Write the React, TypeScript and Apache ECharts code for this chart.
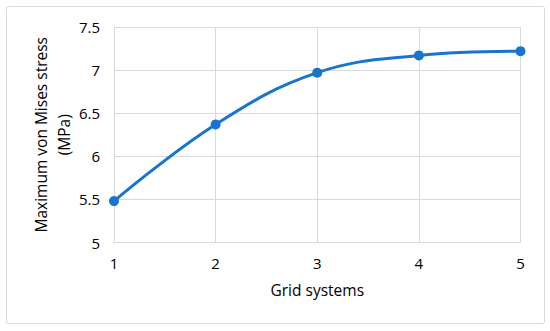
import React, { useEffect, useRef } from "react";
import * as echarts from "echarts";

const gridSystems = [1, 2, 3, 4, 5];
const maxStress = [5.48, 6.37, 6.97, 7.17, 7.22];
const yTicks = { min: 5, max: 7.5, interval: 0.5 };
const xTitle = "Grid systems";
const yTitle = "Maximum von Mises stress\n(MPa)";

export default function App() {
  const ref = useRef<HTMLDivElement>(null);
  useEffect(() => {
    if (!ref.current) return;
    const chart = echarts.init(ref.current, null, { renderer: "svg" });
    const font = "'Open Sans', 'Noto Sans', sans-serif";
    chart.setOption({
      animation: false,
      backgroundColor: "#ffffff",
      graphic: [
        {
          type: "rect",
          shape: { x: 6.5, y: 6.5, width: 538, height: 317, r: 2 },
          style: { fill: "none", stroke: "#d9d9d9", lineWidth: 1 },
          silent: true,
        },
      ],
      grid: { left: 114, right: 29.5, top: 27, bottom: 88.5, containLabel: false },
      xAxis: {
        type: "value",
        min: 1,
        max: 5,
        interval: 1,
        name: xTitle,
        nameLocation: "middle",
        nameGap: 39,
        nameMoveOverlap: false,
        nameTextStyle: { fontFamily: font, fontSize: 15.5, color: "#000" },
        axisLine: { show: true, lineStyle: { color: "#d9d9d9", width: 1 } },
        axisTick: { show: false },
        axisLabel: { fontFamily: font, fontSize: 15, color: "#000", margin: 13 },
        splitLine: { show: true, lineStyle: { color: "#d9d9d9", width: 1 } },
      },
      yAxis: {
        type: "value",
        min: yTicks.min,
        max: yTicks.max,
        interval: yTicks.interval,
        name: yTitle,
        nameLocation: "middle",
        nameGap: 39,
        nameMoveOverlap: false,
        nameRotate: 90,
        nameTextStyle: { fontFamily: font, fontSize: 15.5, color: "#000", lineHeight: 23, align: "center" },
        axisLine: { show: true, lineStyle: { color: "#d9d9d9", width: 1 } },
        axisTick: { show: false },
        axisLabel: { fontFamily: font, fontSize: 15, color: "#000", margin: 14 },
        splitLine: { show: true, lineStyle: { color: "#d9d9d9", width: 1 } },
      },
      series: [
        {
          type: "line",
          data: gridSystems.map((g, i) => [g, maxStress[i]]),
          smooth: 0.4,
          symbol: "circle",
          symbolSize: 10,
          lineStyle: { color: "#1874cd", width: 3 },
          itemStyle: { color: "#1874cd" },
        },
      ],
    });
    return () => chart.dispose();
  }, []);
  return (
    <div
      ref={ref}
      style={{ position: "absolute", left: 0, top: 0, width: 550, height: 331 }}
    />
  );
}
